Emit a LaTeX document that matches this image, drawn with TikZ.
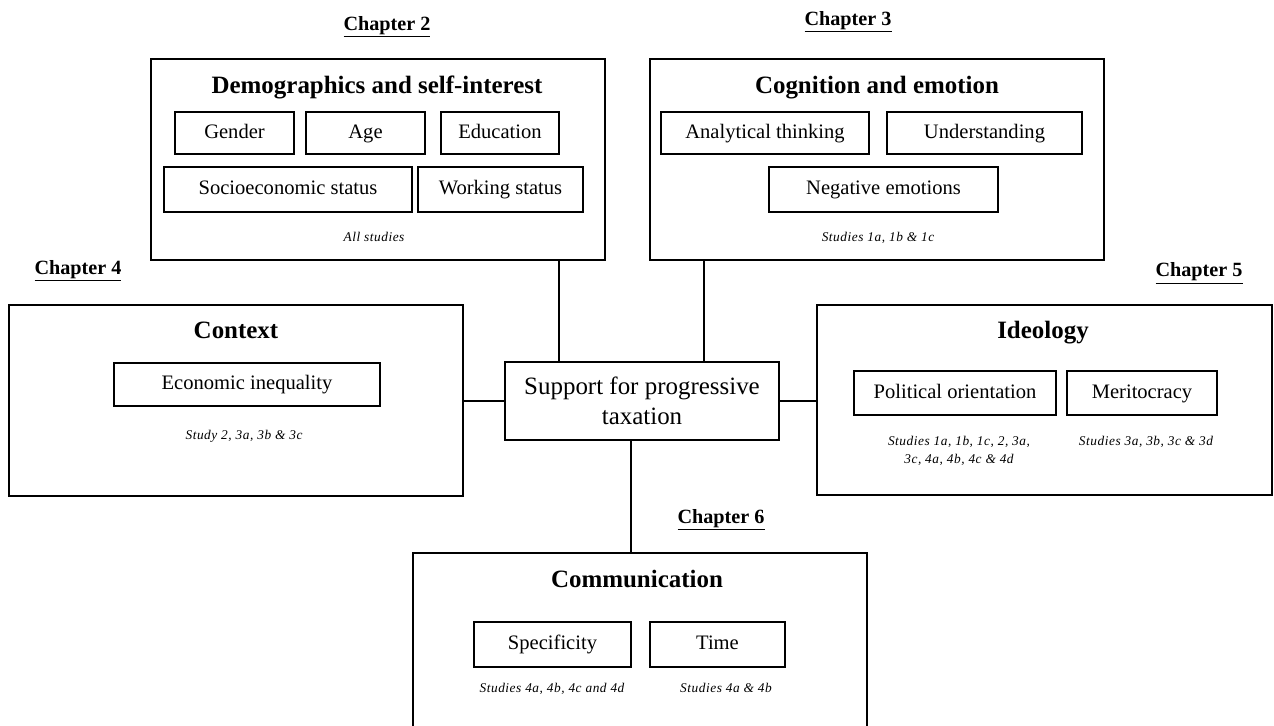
\documentclass[tikz,border=0pt]{standalone}
\usepackage{fontspec}
\setmainfont{Liberation Serif}
\begin{document}
\begin{tikzpicture}[x=0.02cm,y=-0.02cm,
  outerbox/.style={draw,line width=1pt,inner sep=0pt,outer sep=0pt,minimum width=9.08cm},
  innerbox/.style={draw,line width=0.9pt,inner sep=0pt,outer sep=0pt,text height=8.3pt,text depth=2.6pt,font=\fontsize{11.7}{14}\selectfont},
  titletext/.style={anchor=base,inner sep=0pt,font=\fontsize{14.2}{17}\selectfont\bfseries},
  chaptext/.style={anchor=base,inner sep=0pt,font=\fontsize{11.5}{14}\selectfont\bfseries},
  notetext/.style={anchor=base,inner sep=0pt,align=center,font=\fontsize{7.6}{10.4}\selectfont\itshape\addfontfeatures{LetterSpace=4}},
  conn/.style={line width=0.9pt}]
\useasboundingbox (0,0) rectangle (1274,725);
\clip (0,0) rectangle (1274,725);
\fill[white] (0,0) rectangle (1274,725);

% chapter labels
\node[chaptext] (ch2) at (387,30) {\underline{Chapter 2}};
\node[chaptext] (ch3) at (848,25) {\underline{Chapter 3}};
\node[chaptext] (ch4) at (78,274) {\underline{Chapter 4}};
\node[chaptext] (ch5) at (1199,276.5) {\underline{Chapter 5}};
\node[chaptext] (ch6) at (721,523) {\underline{Chapter 6}};

% outer boxes
\node[outerbox,minimum height=4.02cm] (demo) at (378,159.5) {};
\node[outerbox,minimum height=4.02cm] (cog) at (877,159.5) {};
\node[outerbox,minimum height=3.82cm] (ctx) at (236,400.5) {};
\node[outerbox,minimum width=9.10cm,minimum height=3.80cm] (ideo) at (1044.5,400) {};
\node[outerbox,minimum height=4.14cm] (comm) at (640,656.5) {};
\node[draw,line width=1pt,inner sep=0pt,outer sep=0pt,minimum width=5.48cm,minimum height=1.56cm,align=center,font=\fontsize{14.2}{16.8}\selectfont] (ctr) at (642,401) {Support for progressive\\taxation};

% titles
\node[titletext] (tdemo) at (377,93) {Demographics and self-interest};
\node[titletext] (tcog) at (877,93) {Cognition and emotion};
\node[titletext] (tctx) at (236,338) {Context};
\node[titletext] (tideo) at (1043,338) {Ideology};
\node[titletext] (tcomm) at (637,587) {Communication};

% inner boxes
\node[innerbox,minimum width=2.38cm,minimum height=0.84cm] (gender) at (234.5,133) {Gender};
\node[innerbox,minimum width=2.38cm,minimum height=0.84cm] (age) at (365.5,133) {Age};
\node[innerbox,minimum width=2.36cm,minimum height=0.84cm] (edu) at (500,133) {Education};
\node[innerbox,minimum width=4.96cm,minimum height=0.90cm] (ses) at (288,189.5) {Socioeconomic status};
\node[innerbox,minimum width=3.30cm,minimum height=0.90cm] (work) at (500.5,189.5) {Working status};

\node[innerbox,minimum width=4.16cm,minimum height=0.84cm] (anal) at (765,133) {Analytical thinking};
\node[innerbox,minimum width=3.90cm,minimum height=0.84cm] (under) at (984.5,133) {Understanding};
\node[innerbox,minimum width=4.58cm,minimum height=0.90cm] (neg) at (883.5,189.5) {Negative emotions};

\node[innerbox,minimum width=5.32cm,minimum height=0.86cm] (ineq) at (247,384.5) {Economic inequality};

\node[innerbox,minimum width=4.04cm,minimum height=0.88cm] (pol) at (955,393) {Political orientation};
\node[innerbox,minimum width=3.00cm,minimum height=0.88cm] (merit) at (1142,393) {Meritocracy};

\node[innerbox,minimum width=3.14cm,minimum height=0.90cm] (spec) at (552.5,644.5) {Specificity};
\node[innerbox,minimum width=2.70cm,minimum height=0.90cm] (time) at (717.5,644.5) {Time};

% notes
\node[notetext] (ndemo) at (374,241) {All studies};
\node[notetext] (ncog) at (878,241) {Studies 1a, 1b \& 1c};
\node[notetext] (nctx) at (244,439) {Study 2, 3a, 3b \& 3c};
\node[notetext] (npol1) at (959,445) {Studies 1a, 1b, 1c, 2, 3a,};
\node[notetext] (npol2) at (959,463) {3c, 4a, 4b, 4c \& 4d};
\node[notetext] (nmerit) at (1146,445) {Studies 3a, 3b, 3c \& 3d};
\node[notetext] (nspec) at (552,692) {Studies 4a, 4b, 4c and 4d};
\node[notetext] (ntime) at (726,692) {Studies 4a \& 4b};

% connectors
\coordinate (xdemo) at (559,0);
\coordinate (xcog) at (704,0);
\coordinate (xcomm) at (631,0);
\draw[conn] (demo.south -| xdemo) -- (ctr.north -| xdemo);
\draw[conn] (cog.south -| xcog) -- (ctr.north -| xcog);
\draw[conn] (ctr.west) -- (ctr.west -| ctx.east);
\draw[conn] (ctr.east) -- (ctr.east -| ideo.west);
\draw[conn] (ctr.south -| xcomm) -- (comm.north -| xcomm);
\end{tikzpicture}
\end{document}
